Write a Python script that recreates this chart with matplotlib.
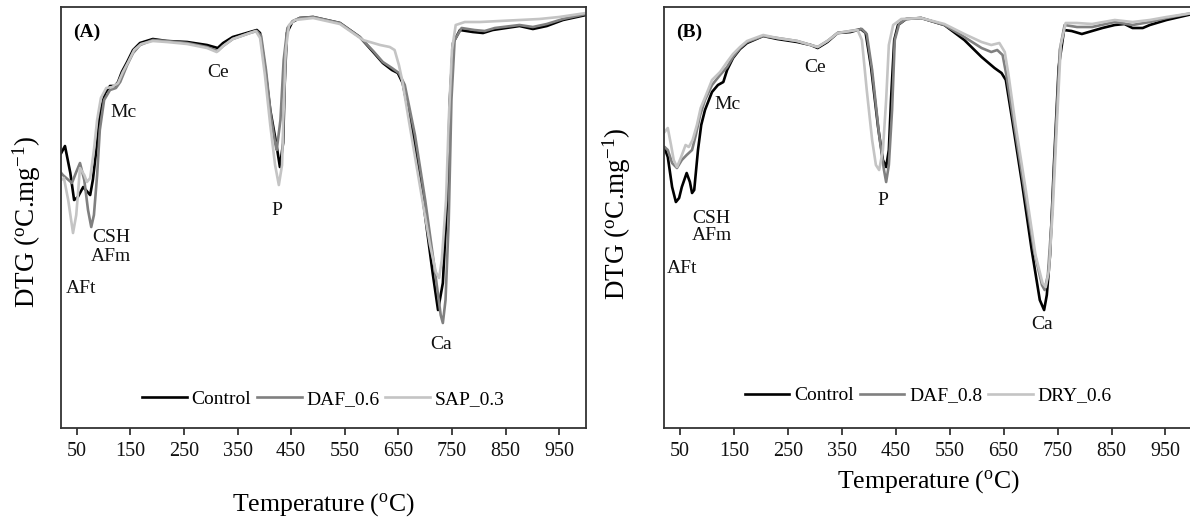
import matplotlib
matplotlib.use("Agg")
import matplotlib.pyplot as plt

plt.rcParams['font.family'] = ['Liberation Serif', 'DejaVu Serif']
plt.rcParams['mathtext.fontset'] = 'custom'
plt.rcParams['mathtext.rm'] = 'Liberation Serif'
plt.rcParams['mathtext.it'] = 'Liberation Serif:italic'

# ---- panel A data (temperature in C, DTG in arbitrary units) ----
a_ctrl_t = [21, 28, 38, 45, 52, 62, 75, 80, 88, 93, 103, 112, 121, 127, 134, 144, 155, 168, 192, 218,
            256, 293, 313, 323, 341, 354, 373, 386, 392, 401, 411, 422, 429, 435, 438, 442, 452, 466,
            491, 541, 578, 603, 621, 638, 649, 658, 677, 696, 714, 724, 733, 741, 746, 752, 765, 789,
            808, 826, 876, 901, 927, 957, 1000]
a_ctrl_y = [-1.38, -1.31, -1.58, -1.85, -1.82, -1.72, -1.80, -1.65, -1.28, -0.98, -0.78, -0.71, -0.71,
            -0.67, -0.57, -0.47, -0.35, -0.28, -0.24, -0.26, -0.27, -0.30, -0.33, -0.28, -0.22, -0.20,
            -0.17, -0.15, -0.18, -0.52, -0.95, -1.28, -1.52, -1.28, -0.68, -0.18, -0.07, -0.03, -0.02,
            -0.08, -0.22, -0.37, -0.48, -0.55, -0.58, -0.68, -1.18, -1.85, -2.58, -2.95, -2.68, -1.85,
            -0.85, -0.28, -0.15, -0.17, -0.18, -0.15, -0.11, -0.14, -0.11, -0.05, 0.0]

a_daf_t = [21, 24, 41, 49, 56, 64, 71, 77, 82, 88, 93, 101, 112, 123, 131, 144, 155, 168, 192, 218,
           256, 293, 313, 323, 341, 373, 386, 394, 403, 412, 420, 423, 430, 436, 443, 453, 466, 491,
           541, 578, 603, 621, 638, 651, 662, 681, 700, 718, 729, 733, 738, 744, 749, 755, 768, 792,
           811, 830, 876, 901, 927, 957, 1000]
a_daf_y = [-1.58, -1.60, -1.68, -1.57, -1.48, -1.65, -1.95, -2.12, -2.00, -1.60, -1.15, -0.85, -0.75,
           -0.73, -0.67, -0.50, -0.38, -0.30, -0.25, -0.26, -0.28, -0.32, -0.36, -0.31, -0.24, -0.18,
           -0.16, -0.21, -0.55, -1.00, -1.28, -1.35, -1.05, -0.45, -0.13, -0.06, -0.03, -0.02, -0.08,
           -0.22, -0.36, -0.47, -0.53, -0.58, -0.70, -1.20, -1.85, -2.55, -3.00, -3.08, -2.85, -2.05,
           -0.85, -0.25, -0.13, -0.15, -0.16, -0.13, -0.10, -0.12, -0.09, -0.04, 0.01]

a_sap_t = [21, 26, 34, 43, 49, 56, 64, 69, 75, 82, 88, 95, 105, 116, 127, 136, 146, 157, 170, 192,
           218, 256, 293, 311, 323, 341, 373, 384, 392, 401, 411, 420, 427, 433, 436, 440, 446, 457,
           491, 541, 584, 616, 634, 643, 651, 657, 671, 690, 709, 720, 726, 731, 739, 744, 750, 757,
           774, 802, 839, 876, 913, 950, 1000]
a_sap_y = [-1.65, -1.63, -1.85, -2.18, -2.00, -1.53, -1.60, -1.67, -1.63, -1.35, -1.05, -0.83, -0.73,
           -0.72, -0.68, -0.57, -0.47, -0.35, -0.29, -0.26, -0.27, -0.29, -0.33, -0.37, -0.31, -0.24,
           -0.18, -0.16, -0.23, -0.60, -1.10, -1.50, -1.70, -1.50, -0.95, -0.35, -0.10, -0.05, -0.03,
           -0.09, -0.25, -0.30, -0.32, -0.35, -0.50, -0.65, -1.10, -1.70, -2.30, -2.57, -2.63, -2.45,
           -1.85, -1.05, -0.35, -0.10, -0.07, -0.07, -0.06, -0.05, -0.04, -0.02, 0.02]

# ---- panel B data ----
b_ctrl_t = [21, 27, 35, 42, 48, 53, 62, 68, 72, 76, 83, 89, 96, 109, 120, 130, 137, 148, 161, 174,
            204, 230, 267, 292, 305, 314, 323, 342, 366, 385, 394, 404, 417, 426, 432, 437, 441, 447,
            454, 469, 497, 540, 577, 609, 633, 646, 654, 665, 684, 702, 717, 725, 730, 736, 743, 752,
            762, 776, 795, 814, 833, 856, 874, 889, 908, 921, 952, 1000]
b_ctrl_y = [-1.33, -1.42, -1.72, -1.87, -1.83, -1.72, -1.58, -1.67, -1.78, -1.75, -1.35, -1.10, -0.95,
            -0.77, -0.70, -0.67, -0.55, -0.43, -0.34, -0.28, -0.21, -0.24, -0.27, -0.30, -0.33, -0.30,
            -0.27, -0.18, -0.17, -0.14, -0.18, -0.52, -1.12, -1.45, -1.52, -1.35, -0.85, -0.25, -0.10,
            -0.04, -0.03, -0.10, -0.25, -0.42, -0.53, -0.58, -0.65, -1.02, -1.68, -2.35, -2.85, -2.95,
            -2.80, -2.40, -1.52, -0.52, -0.15, -0.16, -0.19, -0.16, -0.13, -0.10, -0.09, -0.13, -0.13,
            -0.10, -0.05, 0.01]

b_daf_t = [21, 27, 35, 44, 53, 62, 72, 79, 87, 96, 109, 124, 137, 148, 161, 174, 204, 230, 267, 305,
           323, 342, 366, 387, 396, 406, 419, 428, 432, 437, 443, 448, 456, 469, 497, 540, 577, 609,
           627, 638, 648, 655, 668, 687, 706, 721, 726, 732, 739, 747, 754, 763, 786, 814, 856, 889,
           921, 952, 1000]
b_daf_y = [-1.32, -1.35, -1.48, -1.53, -1.45, -1.40, -1.35, -1.20, -1.00, -0.85, -0.70, -0.60, -0.52,
           -0.42, -0.33, -0.27, -0.21, -0.23, -0.26, -0.32, -0.26, -0.18, -0.16, -0.14, -0.19, -0.55,
           -1.20, -1.55, -1.67, -1.50, -0.95, -0.25, -0.09, -0.04, -0.03, -0.10, -0.22, -0.33, -0.37,
           -0.35, -0.40, -0.60, -1.05, -1.70, -2.35, -2.70, -2.75, -2.60, -2.05, -1.15, -0.35, -0.10,
           -0.12, -0.12, -0.07, -0.10, -0.07, -0.03, 0.02]

b_dry_t = [21, 27, 33, 38, 44, 51, 60, 66, 73, 81, 88, 98, 109, 124, 137, 148, 161, 174, 204, 230,
           267, 305, 323, 342, 366, 379, 387, 396, 406, 413, 419, 426, 432, 437, 445, 460, 497, 540,
           577, 609, 627, 642, 652, 659, 672, 691, 709, 722, 728, 734, 741, 749, 756, 765, 786, 814,
           856, 889, 921, 952, 1000]
b_dry_y = [-1.17, -1.13, -1.30, -1.45, -1.52, -1.43, -1.30, -1.32, -1.25, -1.10, -0.93, -0.80, -0.65,
           -0.57, -0.47, -0.39, -0.32, -0.26, -0.20, -0.23, -0.26, -0.32, -0.26, -0.18, -0.16, -0.15,
           -0.25, -0.75, -1.25, -1.50, -1.55, -1.35, -0.85, -0.30, -0.10, -0.04, -0.03, -0.09, -0.19,
           -0.27, -0.30, -0.28, -0.37, -0.60, -1.10, -1.75, -2.40, -2.68, -2.72, -2.55, -1.95, -1.05,
           -0.30, -0.08, -0.08, -0.09, -0.05, -0.07, -0.05, -0.02, 0.02]

xticks = [50, 150, 250, 350, 450, 550, 650, 750, 850, 950]

# peak labels: (text, temperature, dtg)
a_labels = [("Mc", 138, -0.97), ("Ce", 313, -0.57), ("P", 424, -1.95), ("CSH", 114, -2.22),
            ("AFm", 114, -2.41), ("AFt", 58, -2.73), ("Ca", 730, -3.29)]
b_labels = [("Mc", 137, -0.89), ("Ce", 301, -0.52), ("P", 426, -1.85), ("CSH", 107, -2.03),
            ("AFm", 109, -2.20), ("AFt", 53, -2.53), ("Ca", 721, -3.09)]

colors = ['#000000', '#808080', '#c4c4c4']

fig = plt.figure(figsize=(11.9, 5.19), dpi=100)
axA = fig.add_axes([0.051, 0.1753, 0.4414, 0.8112])
axB = fig.add_axes([0.558, 0.1753, 0.4440, 0.8112])

panels = [
    (axA, "(A)", [(a_ctrl_t, a_ctrl_y, "Control"), (a_daf_t, a_daf_y, "DAF_0.6"), (a_sap_t, a_sap_y, "SAP_0.3")],
     a_labels, 0.069, -0.183, (-0.064, 0.489)),
    (axB, "(B)", [(b_ctrl_t, b_ctrl_y, "Control"), (b_daf_t, b_daf_y, "DAF_0.8"), (b_dry_t, b_dry_y, "DRY_0.6")],
     b_labels, 0.077, -0.128, (-0.089, 0.509)),
]

for ax, tag, series, labels, leg_y, xl_y, yl_pos in panels:
    for (t, y, name), c in zip(series, colors):
        ax.plot(t, y, color=c, lw=1.9, label=name, solid_joinstyle='round')
    ax.set_xlim(20, 1000)
    ax.set_ylim(-4.13, 0.08)
    ax.set_xticks(xticks)
    ax.set_yticks([])
    ax.tick_params(axis='x', direction='out', length=5, width=1.2, pad=5, labelsize=14.5,
                   top=False, colors='#222222', labelcolor='#111111')
    for s in ax.spines.values():
        s.set_linewidth(1.3)
        s.set_color('#333333')
    for txt, tx, ty in labels:
        ax.text(tx, ty, txt, fontsize=14, ha='center', va='center', color='#111111')
    ax.text(0.023, 0.94, tag, transform=ax.transAxes, fontsize=14, fontweight='bold',
            ha='left', va='center')
    ax.legend(loc='center', bbox_to_anchor=(0.5, leg_y), ncol=3, frameon=False, fontsize=14,
              handlelength=2.3, handletextpad=0.25, columnspacing=0.3, borderaxespad=0)
    ax.set_xlabel('Temperature ($^{\\mathrm{o}}$C)', fontsize=18.5)
    ax.xaxis.set_label_coords(0.5, xl_y)
    ax.xaxis.label.set_va('center')
    ax.set_ylabel('DTG ($^{\\mathrm{o}}$C.mg$^{\\mathrm{-1}}$)', fontsize=19.5)
    ax.yaxis.set_label_coords(*yl_pos)
    ax.yaxis.label.set_va('center')

fig.savefig('out.png', dpi=100, facecolor='white')
